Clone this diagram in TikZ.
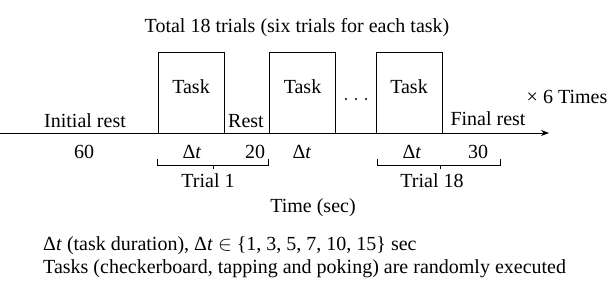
\documentclass[tikz,border=0pt]{standalone}
\usepackage{fontspec}
\setmainfont{Liberation Serif}
\usetikzlibrary{arrows.meta}
\begin{document}
\begin{tikzpicture}[x=1pt,y=-1pt,
  txt/.style={font=\fontsize{20}{24}\selectfont, inner sep=0pt, anchor=base},
  ltxt/.style={txt, anchor=base west},
  taskbox/.style={draw, line width=0.8pt, minimum width=66pt, minimum height=81pt, inner sep=0pt},
  ln/.style={line width=0.8pt},
  brace/.style={line width=0.7pt}]
\useasboundingbox (0,0) rectangle (612,282);
% axis
\coordinate (axstart) at (0,133);
\coordinate (axend) at (549,133);
\draw[ln, -{Stealth[length=8pt,width=6pt]}] (axstart) -- (axend);
% boxes
\node[taskbox] (b1) at (191,92.5) {};
\node[taskbox] (b2) at (302.5,92.5) {};
\node[taskbox] (b3) at (409,92.5) {};
\node[txt] (t1) at (191,93) {Task};
\node[txt] (t2) at (302.5,93) {Task};
\node[txt] (t3) at (409,93) {Task};
% dots
\fill (346,99) circle (1.2pt) (356,99) circle (1.2pt) (366,99) circle (1.2pt);
% labels above axis
\node[txt] (title) at (297,32) {Total 18 trials (six trials for each task)};
\node[txt] (init) at (85,127) {Initial rest};
\node[txt] (rest) at (246,127) {Rest};
\node[txt] (final) at (488,125) {Final rest};
\node[txt] (times) at (567,103) {× 6 Times};
% labels below axis
\node[txt] (n60) at (84,158) {60};
\node[txt] (d1) at (192,158) {Δ\textit{t}};
\node[txt] (n20) at (255,158) {20};
\node[txt] (d2) at (302,158) {Δ\textit{t}};
\node[txt] (d3) at (412,158) {Δ\textit{t}};
\node[txt] (n30) at (478,158) {30};
% braces
\draw[brace] (157,159) -- (157,165) -- (268,165) -- (268,159);
\draw[brace] (213,165) -- (213,169);
\draw[brace] (377,159) -- (377,165) -- (500,165) -- (500,159);
\draw[brace] (440,165) -- (440,169);
\node[txt] (tr1) at (208,187) {Trial 1};
\node[txt] (tr18) at (432,187) {Trial 18};
\node[txt] (time) at (313,212) {Time (sec)};
% notes
\node[ltxt] (note1) at (43,250) {Δ\textit{t} (task duration), Δ\textit{t} $\in$ \{1, 3, 5, 7, 10, 15\} sec};
\node[ltxt] (note2) at (43,273) {Tasks (checkerboard, tapping and poking) are randomly executed};
\end{tikzpicture}
\end{document}
